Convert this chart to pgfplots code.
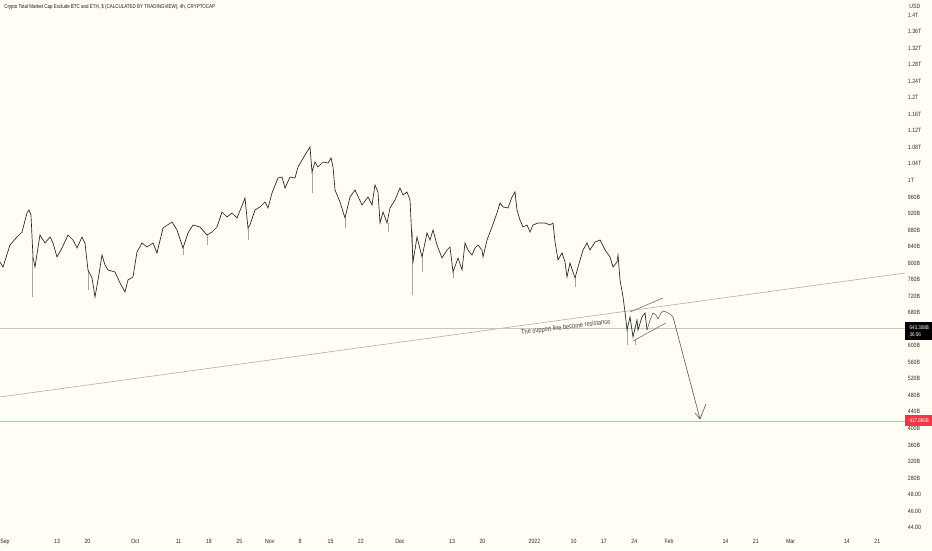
\documentclass[border=0pt]{standalone}
\usepackage{pgfplots}
\pgfplotsset{compat=1.18}
\usepackage{fontspec}
\setmainfont{Liberation Sans}[FakeStretch=0.85]
\definecolor{bg}{RGB}{255,253,244}
\definecolor{txt}{RGB}{45,45,45}
\definecolor{tvred}{RGB}{242,54,69}
\definecolor{pinkline}{RGB}{246,160,166}
\begin{document}
\begin{tikzpicture}
\useasboundingbox (0pt,-11.25pt) rectangle (699pt,401.25pt);
\fill[bg] (0pt,-11.25pt) rectangle (699pt,401.25pt);
\begin{axis}[
 scale only axis, width=678.75pt, height=401.25pt,
 xmin=-1.152, xmax=207.37, ymin=142.1, ymax=1436.3,
 axis line style={draw=none}, tick style={draw=none}, major tick length=0pt,
 yticklabel pos=right,
 ytick={1400,1360,1320,1280,1240,1200,1160,1120,1080,1040,1000,960,920,880,840,800,760,720,680,600,560,520,480,440,400,360,320,280,240,200,160},
 yticklabels={1.4T,1.36T,1.32T,1.28T,1.24T,1.2T,1.16T,1.12T,1.08T,1.04T,1T,960B,920B,880B,840B,800B,760B,720B,680B,600B,560B,520B,480B,440B,400B,360B,320B,280B,48.00,46.00,44.00},
 xtick={0,12,19,30,40,47,54,61,68,75,82,91,103,110,122,131,138,145,153,166,173,181,194,201},
 xticklabels={Sep,13,20,Oct,11,18,25,Nov,8,15,22,Dec,13,20,2022,10,17,24,Feb,14,21,Mar,14,21},
 tick label style={font=\fontsize{4.6}{5}\selectfont, text=txt},
 yticklabel style={anchor=west, inner sep=0pt, xshift=2pt},
 xticklabel style={anchor=north, inner sep=0pt, yshift=-3.2pt},
 clip=false,
]
% support line, price line, red level
\addplot[no marks, gray!70, line width=0.4pt] coordinates {(-1.152,476.0) (207.37,775.9)};
\addplot[no marks, gray!45, line width=0.4pt] coordinates {(-1.152,643.3) (207.37,643.3)};
\addplot[no marks, pinkline, line width=0.7pt] coordinates {(-1.152,417.9) (207.37,417.9)};
% wicks
\addplot[no marks, gray!70, line width=0.35pt, unbounded coords=jump] coordinates {
(6.2,814.6) (6.2,717.9) (6.2,nan)
(19.12,783.2) (19.12,734.8) (19.12,nan)
(41.01,836.4) (41.01,819.5) (41.01,nan)
(46.54,867.8) (46.54,843.6) (46.54,nan)
(55.99,884.8) (55.99,855.7) (55.99,nan)
(70.74,1020.2) (70.74,969.4) (70.74,nan)
(78.34,909.0) (78.34,884.8) (78.34,nan)
(88.25,896.9) (88.25,875.1) (88.25,nan)
(93.8,875.1) (93.8,722.7) (93.8,nan)
(96.08,814.6) (96.08,778.4) (96.08,nan)
(103.23,778.4) (103.23,763.8) (103.23,nan)
(131.34,763.8) (131.34,742.1) (131.34,nan)
(143.32,638.0) (143.32,601.7) (143.32,nan)
(145.16,614.0) (145.16,601.7)
};
% price
\addplot[no marks, black!85, line width=0.5pt] coordinates {
(-1.15,802.5) (-0.46,790.4) (1.15,843.6) (2.76,863.0) (3.92,875.1) (5.07,921.1) (5.53,928.3) (5.99,916.2) (6.45,814.6) (6.91,790.4) (8.06,867.8) (9.22,848.5) (10.37,863.0) (11.06,848.5) (11.98,814.6) (13.13,836.4) (14.52,867.8) (15.67,855.7) (16.59,836.4) (17.74,863.0) (18.43,848.5) (19.12,783.2) (20.05,763.8) (20.74,717.9) (21.43,759.0) (22.35,819.5) (23.04,795.3) (23.73,783.2) (25.35,778.4) (26.50,751.7) (27.65,730.0) (28.34,759.0) (29.49,766.2) (30.41,826.7) (31.57,848.5) (32.72,838.8) (34.10,848.5) (35.02,824.3) (36.41,884.8) (38.48,899.3) (39.63,879.9) (41.01,836.4) (42.17,872.7) (43.32,892.0) (44.93,887.2) (46.54,867.8) (47.70,875.1) (48.85,887.2) (50.00,923.5) (51.15,911.4) (52.30,921.1) (53.46,909.0) (55.30,957.3) (55.99,884.8) (56.45,892.0) (57.60,928.3) (58.76,935.6) (59.91,947.7) (60.60,933.2) (61.52,969.4) (62.90,1005.7) (63.82,1008.1) (64.52,981.5) (65.67,1008.1) (66.82,1005.7) (67.51,1032.3) (69.12,1061.4) (70.28,1080.7) (70.74,1020.2) (71.43,1044.4) (72.12,1032.3) (73.27,1044.4) (74.42,1042.0) (75.12,1054.1) (75.58,1032.3) (76.04,976.7) (77.19,947.7) (78.34,909.0) (79.49,959.8) (80.65,976.7) (82.26,940.4) (83.64,959.8) (84.56,940.4) (85.25,988.8) (85.94,971.8) (86.41,896.9) (87.10,923.5) (88.02,896.9) (88.71,933.2) (89.86,952.5) (91.01,981.5) (91.71,964.6) (92.63,971.8) (93.32,952.5) (94.01,802.5) (94.93,863.0) (96.08,814.6) (97.24,872.7) (97.93,855.7) (98.62,879.9) (99.54,843.6) (100.69,812.2) (101.84,831.5) (102.53,838.8) (103.23,778.4) (104.38,812.2) (105.30,783.2) (105.99,848.5) (106.68,831.5) (107.60,819.5) (108.29,836.4) (108.99,843.6) (109.91,831.5) (110.14,814.6) (111.06,855.7) (112.21,887.2) (113.36,921.1) (114.06,945.2) (114.75,935.6) (115.90,933.2) (116.82,959.8) (117.51,971.8) (117.97,928.3) (118.66,904.1) (119.35,887.2) (120.28,892.0) (120.97,875.1) (121.66,892.0) (122.81,896.9) (124.42,896.9) (125.58,892.0) (126.27,896.9) (126.73,850.9) (127.42,807.4) (128.34,824.3) (129.03,802.5) (129.49,766.2) (130.18,800.1) (131.34,763.8) (132.03,790.4) (133.18,831.5) (134.10,848.5) (134.79,831.5) (135.94,850.9) (137.10,855.7) (138.25,831.5) (139.40,814.6) (140.09,790.4) (141.01,802.5) (141.24,819.5) (141.71,759.0) (142.40,717.9) (142.86,681.6) (143.32,638.0) (144.01,669.5) (144.70,621.1) (145.62,662.2) (145.85,638.0) (146.77,669.5) (147.47,679.2) (147.93,638.0)
};
% channel lines
\addplot[no marks, black!60, line width=0.4pt] coordinates {(144.01,681.6) (151.61,715.4)};
\addplot[no marks, black!60, line width=0.4pt] coordinates {(144.70,611.4) (152.30,655.0)};
% projected path and arrow
\addplot[no marks, black!65, line width=0.45pt] coordinates {
(147.93,638.0) (148.62,662.2) (149.31,679.2) (150.00,674.3) (150.46,664.6) (151.15,679.2) (151.61,684.0) (152.30,681.6) (153.23,676.7) (153.92,669.5) (157.14,541.3) (160.14,422.7)
};
\addplot[no marks, black!65, line width=0.45pt] coordinates {(158.99,437.3) (160.14,422.7) (161.52,459.0)};
% annotation
\node[rotate=7, anchor=base, inner sep=0pt, font=\fontsize{5}{5}\selectfont, text=black!75] at (axis cs:129.26,640.0) {The support line become resistance};
% price labels
\node[anchor=north west, fill=black, text=white, inner xsep=1.2pt, inner ysep=1pt, align=left, font=\fontsize{4}{5}\selectfont, minimum width=21pt, minimum height=13.5pt] at (axis cs:207.37,657.4) {643.308B\\36:56};
\node[anchor=west, fill=tvred, text=white, inner xsep=1.2pt, inner ysep=0.5pt, font=\fontsize{4}{5}\selectfont, minimum width=21pt, minimum height=8pt] at (axis cs:207.37,419.5) {417.866B};
% titles
\node[anchor=west, inner sep=0pt, font=\fontsize{4.6}{5}\selectfont, text=txt, xshift=3pt, yshift=-4.5pt] at (rel axis cs:1,1) {USD};
\node[anchor=west, inner sep=0pt, font=\fontsize{4.2}{5}\selectfont, text=black!90, xshift=3pt, yshift=-5.25pt] at (rel axis cs:0,1) {\addfontfeature{FakeStretch=0.8}Crypto Total Market Cap Exclude BTC and ETH, \$ (CALCULATED BY TRADINGVIEW), 4h, CRYPTOCAP};
\end{axis}
\end{tikzpicture}
\end{document}
